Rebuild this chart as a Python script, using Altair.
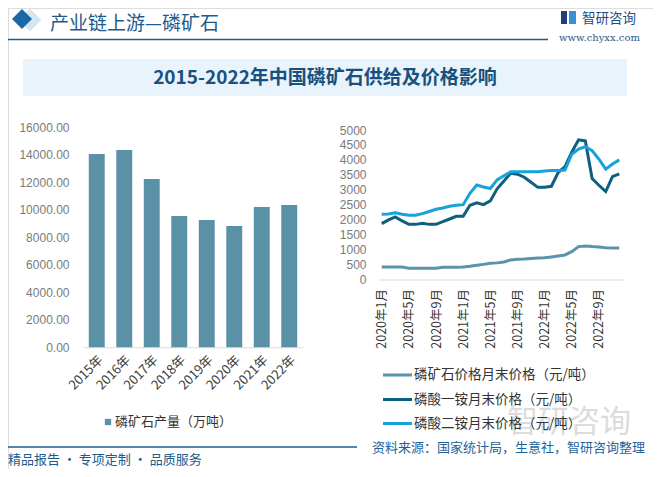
import altair as alt
import pandas as pd

# ---------------- data ----------------
years = ["2015年", "2016年", "2017年", "2018年", "2019年", "2020年", "2021年", "2022年"]
output_wt = [14060, 14350, 12240, 9550, 9260, 8820, 10205, 10350]

months = [f"{y}年{m}月" for y in (2020, 2021, 2022) for m in range(1, 13)]
month_ticks = ["2020年1月", "2020年5月", "2020年9月", "2021年1月", "2021年5月",
               "2021年9月", "2022年1月", "2022年5月", "2022年9月"]

series = ["磷矿石价格月末价格（元/吨）", "磷酸一铵月末价格（元/吨）", "磷酸二铵月末价格（元/吨）"]
rock_price = [413, 413, 413, 413, 370, 370, 370, 370, 370, 400, 400, 400,
              413, 435, 470, 500, 535, 550, 580, 650, 670, 680, 700, 715,
              725, 750, 780, 815, 925, 1095, 1115, 1095, 1085, 1060, 1050, 1050]
map_price = [1865, 1990, 2090, 1955, 1840, 1840, 1875, 1840, 1840, 1930, 2020, 2110,
             2110, 2480, 2560, 2500, 2625, 3030, 3295, 3550, 3520, 3420, 3250, 3080,
             3080, 3115, 3575, 3775, 4255, 4670, 4635, 3375, 3150, 2940, 3440, 3530]
dap_price = [2180, 2190, 2230, 2180, 2145, 2145, 2200, 2270, 2345, 2390, 2445, 2480,
             2500, 2880, 3160, 3090, 3040, 3330, 3470, 3600, 3600, 3600, 3600, 3600,
             3630, 3640, 3640, 3660, 4190, 4360, 4445, 4310, 4020, 3690, 3860, 4000]
series_colors = ["#5b93ab", "#0d5f80", "#17a2d9"]

bar_legend = "磷矿石产量（万吨）"
header_title = "产业链上游—磷矿石"
chart_title = "2015-2022年中国磷矿石供给及价格影响"
source_text = "资料来源：国家统计局，生意社，智研咨询整理"
footer_text = "精品报告 · 专项定制 · 品质服务"
brand = "智研咨询"
url = "www.chyxx.com"

# ---------------- layout helpers ----------------
W, H = 645, 461
def px(x):  # reference page x -> chart x (page has an 8px margin)
    return max(x - 8, 0)
def py(y):
    return y - 8

CJK = "Noto Sans CJK SC"
NUM = "Liberation Sans, Noto Sans CJK SC"
BLUE = "#1d5b8c"

bar_df = pd.DataFrame({"year": years, "output": output_wt})
line_df = pd.DataFrame({
    "month": months * 3,
    "series": [series[0]] * 36 + [series[1]] * 36 + [series[2]] * 36,
    "value": rock_price + map_price + dap_price,
})

def text_layer(s, x, y, size, color, align="left", weight="normal", font=CJK, opacity=1):
    return alt.Chart(pd.DataFrame({"label": [s]})).mark_text(
        align=align, baseline="middle", fontSize=size, color=color,
        fontWeight=weight, font=font, opacity=opacity
    ).encode(x=alt.value(px(x)), y=alt.value(py(y)), text="label:N")

def rule_layer(x1, x2, y, color, width):
    return alt.Chart(pd.DataFrame({"a": [0]})).mark_rule(color=color, strokeWidth=width).encode(
        x=alt.value(px(x1)), x2=alt.value(px(x2)), y=alt.value(py(y)))

def rect_layer(x1, x2, y1, y2, color):
    return alt.Chart(pd.DataFrame({"a": [0]})).mark_rect(color=color).encode(
        x=alt.value(px(x1)), x2=alt.value(px(x2)), y=alt.value(py(y1)), y2=alt.value(py(y2)))

def diamond_layer(x, y, size, color):
    return alt.Chart(pd.DataFrame({"a": [0]})).mark_point(
        shape="diamond", filled=True, size=size, color=color, opacity=1
    ).encode(x=alt.value(px(x)), y=alt.value(py(y)))

layers = []
# header
layers.append(diamond_layer(30, 20, 520, "#d5e6f3"))
layers.append(diamond_layer(22, 19, 400, "#1a69a6"))
layers.append(text_layer(header_title, 50, 23.5, 19, BLUE))
layers.append(rule_layer(8, 548, 39.5, BLUE, 1.5))
layers.append(rect_layer(561, 567, 11, 24, "#243d7e"))
layers.append(rect_layer(569, 576, 11, 24, "#3a90d6"))
layers.append(text_layer(brand, 582, 18.5, 13.5, "#1f4e80"))
layers.append(text_layer(url, 559, 38, 10, "#2a5a85", font="DejaVu Serif"))
# title band
layers.append(rect_layer(23, 627, 59, 96, "#e8f3fb"))
layers.append(text_layer(chart_title, 325, 78, 19, "#18507e", align="center", weight="bold"))

# watermark
layers.append(text_layer(brand, 507, 423, 31, "#d4d4d4", opacity=0.8))

# bar chart
bars = alt.Chart(bar_df).mark_bar(color="#5b91a7").encode(
    x=alt.X("year:N", sort=years,
            scale=alt.Scale(range=[px(83), px(303)], paddingInner=0.42, paddingOuter=0.21),
            axis=alt.Axis(title=None, orient="bottom", labelAngle=-45, labelFontSize=13,
                          labelColor="#404040", labelFont=CJK, domainColor="#d9d9d9",
                          ticks=False, labelPadding=6, offset=py(347.3) - H)),
    y=alt.Y("output:Q",
            scale=alt.Scale(domain=[0, 16000], range=[py(347.3), py(127.3)], nice=False),
            axis=alt.Axis(title=None, orient="left", values=list(range(0, 16001, 2000)),
                          format=".2f", grid=False, domain=False, ticks=False, tickSize=0,
                          labelPadding=4, labelFontSize=12, labelColor="#7a7a7a",
                          labelFont=NUM, offset=-(px(69) + 4))),
)
layers.append(bars)

# line chart
lines = alt.Chart(line_df).mark_line(strokeWidth=3).encode(
    x=alt.X("month:O", sort=months,
            scale=alt.Scale(type="point", range=[px(378), px(623)], padding=0.55),
            axis=alt.Axis(title=None, orient="bottom", values=month_ticks, labelAngle=270,
                          labelFontSize=12.5, labelColor="#333333", labelFont=CJK,
                          domainColor="#d9d9d9", ticks=False, labelPadding=9,
                          offset=py(279.5) - H)),
    y=alt.Y("value:Q",
            scale=alt.Scale(domain=[0, 5000], range=[py(279.3), py(130)], nice=False),
            axis=alt.Axis(title=None, orient="left", values=list(range(0, 5001, 500)),
                          format="d", grid=False, domain=False, ticks=False, tickSize=0,
                          labelPadding=4, labelFontSize=12, labelColor="#7a7a7a",
                          labelFont=NUM, offset=-(px(366) + 4))),
    color=alt.Color("series:N", sort=series,
                    scale=alt.Scale(domain=series, range=series_colors), legend=None),
)
layers.append(lines)

# legends
layers.append(alt.Chart(pd.DataFrame({"a": [0]})).mark_square(
    size=40, color="#5b91a7", opacity=1).encode(x=alt.value(px(108)), y=alt.value(py(422))))
layers.append(text_layer(bar_legend, 115, 422, 13, "#333333"))
for name, col, yy in zip(series, series_colors, [375, 399.5, 423.5]):
    layers.append(rule_layer(383, 412, yy, col, 3))
    layers.append(text_layer(name, 414, yy, 13.5, "#333333"))

# footer
layers.append(rule_layer(8, 357, 447, BLUE, 1.5))
layers.append(text_layer(source_text, 372, 448, 13, "#1f6399"))
layers.append(text_layer(footer_text, 8, 459.5, 13, "#1a5c8c"))

chart = alt.layer(*layers).resolve_scale(
    x="independent", y="independent", color="independent"
).properties(
    width=W, height=H,
    autosize=alt.AutoSizeParams(type="none"),
    padding=0,
).configure_view(stroke=None).configure(background="white")

chart.save("out.html", embed_options={"renderer": "svg", "actions": False})
